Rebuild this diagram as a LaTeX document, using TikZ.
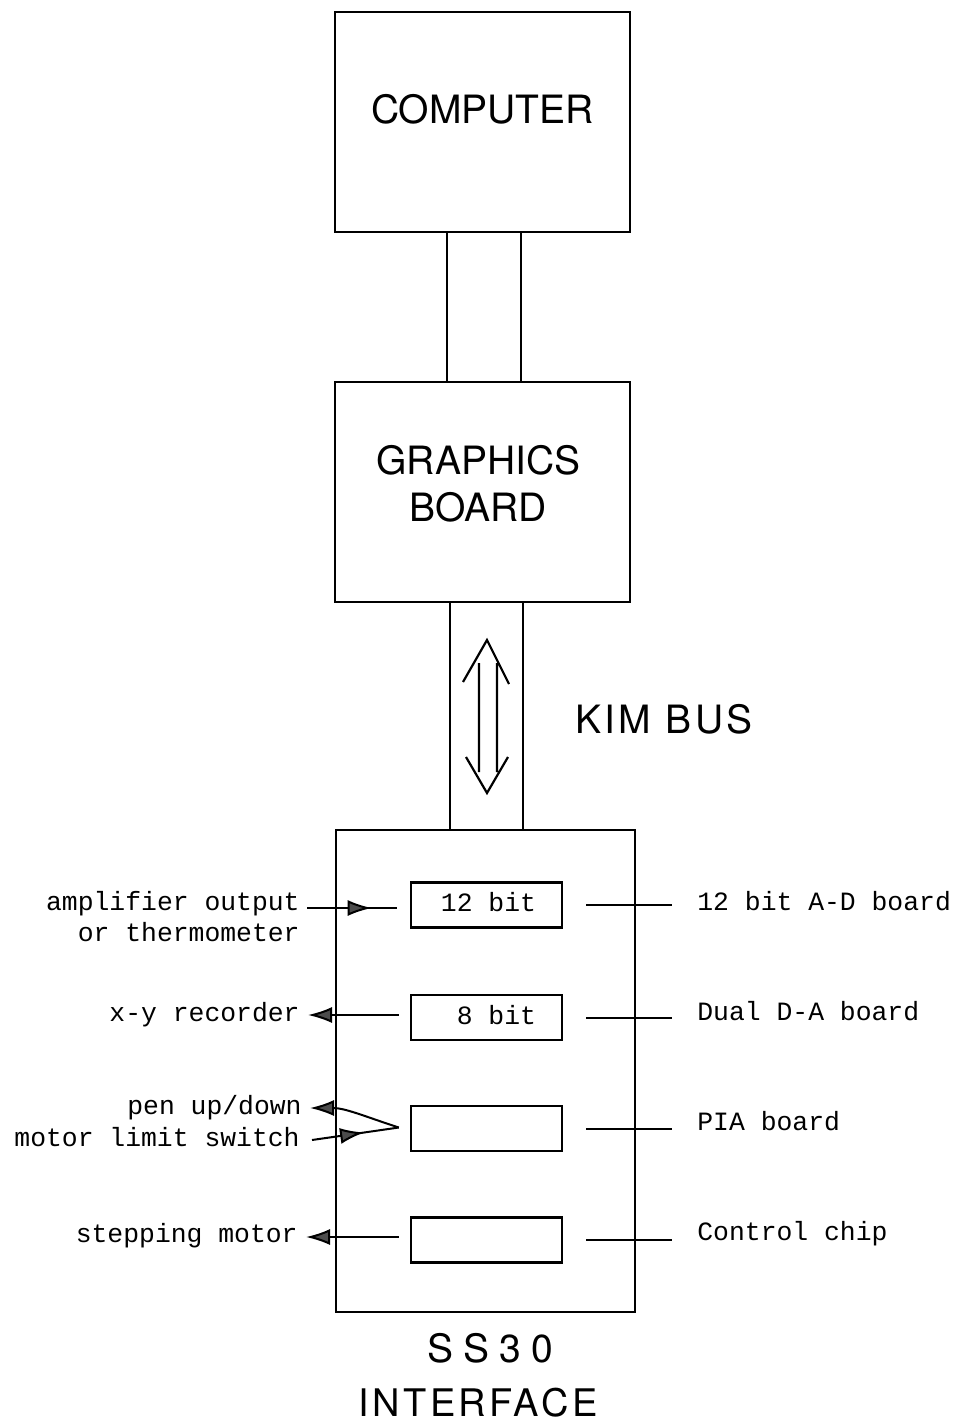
\documentclass[tikz,border=0pt]{standalone}
\usepackage{fontspec}
\usetikzlibrary{arrows.meta, positioning, calc, decorations.markings}
\newfontfamily\typefont{Liberation Mono}
\newfontfamily\headfont{TeX Gyre Heros}
\newfontfamily\headfontwide[LetterSpace=9]{TeX Gyre Heros}
\newfontfamily\headfontss[LetterSpace=26]{TeX Gyre Heros}
\tikzset{
  unit/.style={draw, line width=1.2pt, minimum width=147.5pt, minimum height=110pt, inner sep=0pt},
  board/.style={draw, line width=1.2pt, minimum height=22.5pt, inner xsep=13pt, inner ysep=0pt,
    font=\typefont\fontsize{13.2}{15.5}\selectfont, text height=9pt, text depth=2.5pt},
  lbl/.style={inner sep=0pt, font=\typefont\fontsize{13.2}{15.5}\selectfont, text height=9pt, text depth=2.5pt},
  ttl/.style={inner sep=0pt, font=\headfont\fontsize{19.5}{23.5}\selectfont, text depth=0pt},
  sig/.style={line width=1pt},
  head/.style={-{Latex[length=12pt,width=8pt,fill=black!70]}},
  midhead/.style={postaction={decorate}, decoration={markings,
    mark=at position #1 with {\arrow{Latex[length=12pt,width=8pt,fill=black!70]}}}}
}
\begin{document}
\begin{tikzpicture}[x=0.5pt, y=-0.5pt]
  \useasboundingbox (0,0) rectangle (957,1424);
  % main units
  \node[unit] (comp) at (482.5,122) {};
  \node[unit] (gfx) at (482.5,492) {};
  \node[unit, minimum width=149.5pt, minimum height=241pt] (ss) at (485.5,1071) {};
  \node[ttl] (comptxt) at ($(comp.center)+(0,-13)$) {COMPUTER};
  \node[ttl, align=center] (gfxtxt) at ($(gfx.center)+(-4,-9)$) {GRAPHICS\\BOARD};
  \node[ttl, font=\headfontss\fontsize{19.5}{23.5}\selectfont] (sstxt) at (490,1348) {SS30};
  \node[ttl, font=\headfontwide\fontsize{19}{23}\selectfont] (iftxt) at (478,1402) {INTERFACE};
  \node[ttl, font=\headfontwide\fontsize{19.5}{23.5}\selectfont] (kimtxt) at (664,719) {KIM BUS};

  % buses
  \draw[line width=1.2pt] ($(comp.south)+(-35.5,0)$) -- ($(gfx.north)+(-35.5,0)$);
  \draw[line width=1.2pt] ($(comp.south)+(38.5,0)$) -- ($(gfx.north)+(38.5,0)$);
  \coordinate (kiml) at ($(gfx.south)+(-32.5,0)$);
  \coordinate (kimr) at ($(gfx.south)+(40.5,0)$);
  \draw[line width=1.2pt] (kiml) -- (kiml |- ss.north);
  \draw[line width=1.2pt] (kimr) -- (kimr |- ss.north);
  % open double arrow on the bus
  \draw[line width=1.1pt, line join=miter]
    (463,682) -- (487,640) -- (509,684)
    (479,663) -- (479,772)
    (497,663) -- (497,772)
    (466,757) -- (487,793) -- (508,757);

  % boards inside the interface
  \foreach \n/\y/\ly/\t/\l in {adc/905/903.5/12 bit/12 bit A-D board,
      dac/1017.5/1013.5/8 bit/Dual D-A board,
      pia/1128.5/1123.5//PIA board,
      ctl/1240/1233.5//Control chip} {
    \node[board] (\n) at (486.5,\y) {\makebox[49.5pt][r]{\t}};
    \node[lbl, anchor=west] (lab\n) at (697,\ly) {\l};
    \draw[sig] ($(\n.east)+(23,0)$) -- ($(lab\n.west |- \n.east)+(-25,0)$);
  }

  % signals on the left
  \node[lbl, anchor=east] (amp) at (300,903.5) {amplifier output};
  \node[lbl, anchor=east] (thermo) at (300,934.5) {or thermometer};
  \node[lbl, anchor=east] (xyrec) at (300,1014.5) {x-y recorder};
  \node[lbl, anchor=east] (pen) at (302,1107.5) {pen up/down};
  \node[lbl, anchor=east] (limit) at (300,1139.5) {motor limit switch};
  \node[lbl, anchor=east] (stepper) at (298,1235.5) {stepping motor};

  \draw[sig, midhead=0.72] ($(amp.east)+(7,4.5)$) -- ($(adc.west)+(-13,3)$);
  \draw[sig, head] ($(dac.west)+(-11,-2.5)$) -- ($(xyrec.east)+(8,0.5)$);
  \coordinate (fork) at ($(pia.west)+(-11,-1)$);
  \draw[sig, head] (fork) to[out=162, in=0] ($(pen.east)+(8,0.5)$);
  \draw[sig, midhead=0.6] ($(limit.east)+(12,0.5)$) -- (fork);
  \draw[sig, head] ($(ctl.west)+(-11,-3)$) -- ($(stepper.east)+(8,1.5)$);
\end{tikzpicture}
\end{document}
